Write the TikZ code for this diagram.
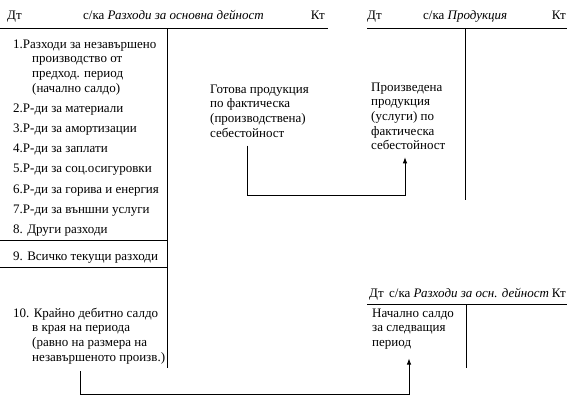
\documentclass[tikz,border=0pt]{standalone}
\usepackage{fontspec}
\setmainfont{Liberation Serif}
\usetikzlibrary{arrows.meta,positioning}

\begin{document}
\begin{tikzpicture}[
  x=1pt, y=-1pt,
  font=\fontsize{13}{14.7}\selectfont,
  txt/.style={anchor=base west, inner sep=0pt},
  rtxt/.style={anchor=base east, inner sep=0pt},
  mtxt/.style={anchor=north west, inner sep=0pt, align=left},
  tline/.style={line width=0.8pt},
  arrow/.style={-{Latex[length=6pt,width=4.5pt]}, line width=0.8pt}
]
\useasboundingbox (0,0) rectangle (576,407);

% left account
\node[txt] (dtA) at (7,19) {Дт};
\node[txt] (titA) at (83,19) {с/ка \textit{Разходи за основна дейност}};
\node[rtxt] (ktA) at (325,19) {Кт};
\draw[tline] (0,28) -- (328,28);
\draw[tline] (167,28) -- (167,368);
\node[mtxt] (it1) at (13,37.7) {\strut 1.Разходи за незавършено\\
  \hspace*{19pt}производство от\\
  \hspace*{19pt}предход. период\\
  \hspace*{19pt}(начално салдо)};
\foreach \i/\t in {2/{2.Р-ди за материали}, 3/{3.Р-ди за амортизации},
    4/{4.Р-ди за заплати}, 5/{5.Р-ди за соц.осигуровки},
    6/{6.Р-ди за горива и енергия}, 7/{7.Р-ди за външни услуги},
    8/{8. Други разходи}}
  \node[txt] (it\i) at (13,{112+20.3*(\i-2)}) {\t};
\draw[tline] (0,240) -- (167,240);
\node[txt] (it9) at (13,260) {9. Всичко текущи разходи};
\draw[tline] (0,267) -- (167,267);
\node[mtxt] (it10) at (13,306.7) {\strut 10. Крайно дебитно салдо\\
  \hspace*{19pt}в края на периода\\
  \hspace*{19pt}(равно на размера на\\
  \hspace*{19pt}незавършеното произв.)};
\node[mtxt] (gotova) at (210,82.7) {\strut Готова продукция\\по фактическа\\(производствена)\\себестойност};

% product account
\node[txt] (dtB) at (367,19) {Дт};
\node[txt] (titB) at (423,19) {с/ка \textit{Продукция}};
\node[rtxt] (ktB) at (566,19) {Кт};
\draw[tline] (367,28) -- (567,28);
\draw[tline] (465,28) -- (465,200);
\node[mtxt] (proizv) at (371,80.7) {\strut Произведена\\продукция\\(услуги) по\\фактическа\\себестойност};

% next period account
\node[txt] (dtC) at (369,297) {Дт};
\node[txt] (titC) at (389,297) {с/ка \textit{Разходи за осн. дейност}};
\node[rtxt] (ktC) at (566,297) {Кт};
\draw[tline] (367,304) -- (567,304);
\draw[tline] (466,304) -- (466,368);
\node[mtxt] (nachalno) at (372,306.7) {\strut Начално салдо\\за следващия\\период};

% transfers
\draw[arrow] ([shift={(37,8)}]gotova.south west) -- ++(0,50) -| ([shift={(34,7)}]proizv.south west);
\draw[arrow] ([shift={(67,7)}]it10.south west) -- ++(0,23) -| ([shift={(37,9)}]nachalno.south west);
\end{tikzpicture}
\end{document}
